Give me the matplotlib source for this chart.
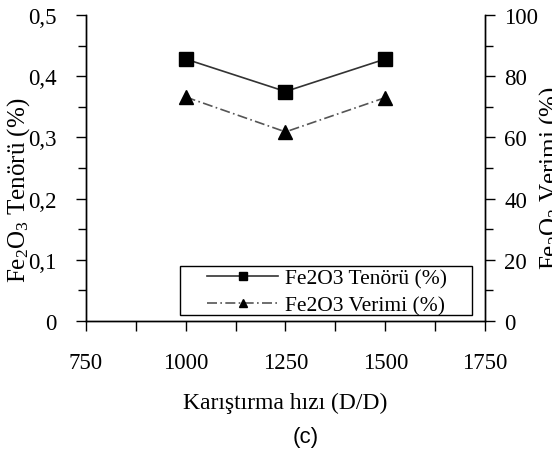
import matplotlib
matplotlib.use("Agg")
import matplotlib.pyplot as plt
from matplotlib.patches import Rectangle
from matplotlib.ticker import MultipleLocator

plt.rcParams['font.family'] = ['Liberation Serif', 'DejaVu Serif']
plt.rcParams['mathtext.fontset'] = 'custom'
plt.rcParams['mathtext.rm'] = 'Liberation Serif'
plt.rcParams['mathtext.it'] = 'Liberation Serif:italic'

# mixing speed (rpm) vs Fe2O3 grade and recovery
hiz = [1000, 1250, 1500]
tenor = [0.428, 0.375, 0.428]
verim = [73.2, 61.8, 73.0]

y1_ticks = [0, 0.1, 0.2, 0.3, 0.4, 0.5]
y1_labels = ["0", "0,1", "0,2", "0,3", "0,4", "0,5"]
y2_ticks = [0, 20, 40, 60, 80, 100]
x_ticks = [750, 1000, 1250, 1500, 1750]

fig = plt.figure(figsize=(5.52, 4.52), dpi=100)
ax1 = fig.add_axes([0.1558, 0.2876, 0.7228, 0.677])
ax2 = ax1.twinx()

l1, = ax1.plot(hiz, tenor, color="#333333", lw=1.2, marker="s", ms=10,
               mfc="black", mec="black", label="Fe2O3 Tenörü (%)")
l2, = ax2.plot(hiz, verim, color="#555555", lw=1.2, ls=(0, (6, 2, 1, 2)),
               marker="^", ms=10, mfc="black", mec="black",
               label="Fe2O3 Verimi (%)")

ax1.set_xlim(750, 1750)
ax1.set_ylim(0, 0.5)
ax2.set_ylim(0, 100)
ax1.set_xticks(x_ticks)
ax1.xaxis.set_minor_locator(MultipleLocator(125))
ax1.set_yticks(y1_ticks)
ax1.set_yticklabels(y1_labels)
ax1.yaxis.set_minor_locator(MultipleLocator(0.05))
ax2.set_yticks(y2_ticks)
ax2.yaxis.set_minor_locator(MultipleLocator(10))

for ax in (ax1, ax2):
    ax.spines["top"].set_visible(False)
    for s in ax.spines.values():
        s.set_linewidth(1.0)
    ax.tick_params(which="major", length=7, width=1, labelsize=16.5, direction="out")
    ax.tick_params(which="minor", length=6, width=1, direction="out")
ax1.tick_params(axis="x", which="both", length=7, pad=15)
ax1.tick_params(axis="y", pad=14)
ax2.tick_params(axis="y", pad=7)

ax1.set_xlabel("Karıştırma hızı (D/D)", fontsize=17, labelpad=14)
ax1.set_ylabel(r"Fe$_2$O$_3$ Tenörü (%)", fontsize=18)
ax1.yaxis.set_label_coords(-0.135, 0.43)
ax2.set_ylabel(r"Fe$_2$O$_3$ Verimi (%)", fontsize=18)
ax2.yaxis.set_label_coords(1.13, 0.47)

# legend box is wider than the entries, so draw the frame separately
ax1.add_patch(Rectangle((0.2356, 0.0196), 0.7314, 0.16, transform=ax1.transAxes,
                        fill=False, ec="black", lw=1.0, zorder=5))
leg = ax1.legend(handles=[l1, l2], loc="lower right", bbox_to_anchor=(0.915, 0.005),
                 borderaxespad=0, fontsize=15.5, frameon=False, numpoints=1,
                 markerscale=0.55, handlelength=3.3, borderpad=0.2,
                 labelspacing=0.3, handletextpad=0.3)

fig.text(0.553, 0.02, "(c)", fontsize=16, family="Liberation Sans", ha="center")

fig.savefig("out.png", dpi=100)
